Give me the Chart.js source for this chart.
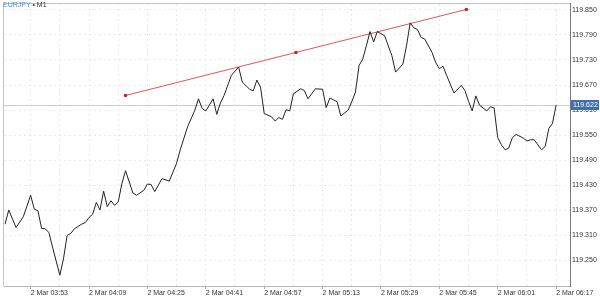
<!DOCTYPE html>
<html>
<head>
<meta charset="utf-8">
<script src="https://cdn.jsdelivr.net/npm/chart.js@4.4.0/dist/chart.umd.min.js"></script>
<style>
  html, body { margin: 0; padding: 0; background: #fff; }
  .wrap { position: relative; width: 600px; height: 300px; }
  .title { position: absolute; left: 3px; top: 1px; font: 7px "Liberation Sans", Arial, sans-serif; color: #333; }
  .title .sym { color: #4a8fdc; }
</style>
</head>
<body>
<div class="wrap">
  <canvas id="chart" width="600" height="300"></canvas>
  <div class="title"><span class="sym">EURJPY</span> • M1</div>
</div>
<script>
    // minutes counted from 2 Mar 03:53
    var minutes = [-7, -6, -4, -2, 0, 1, 2, 3, 4, 5, 6, 8, 9, 10, 11, 12, 14, 15, 16, 17, 18, 19, 20, 21, 22, 23, 24, 25, 26, 28,
        29, 31, 32, 33, 34, 36, 38, 40, 41, 43, 45, 46, 47, 48, 50, 51, 52, 53, 55, 57, 58, 60, 61, 62, 63, 64, 66, 67, 68, 69,
        70, 71, 72, 74, 75, 76, 78, 80, 81, 82, 84, 85, 87, 88, 89, 90, 91, 92, 93, 94, 95, 97, 99, 100, 102, 103, 104, 105, 106, 107,
        108, 109, 110, 111, 112, 113, 114, 116, 118, 119, 120, 121, 122, 123, 125, 126, 127, 128, 129, 130, 131, 132, 133, 135, 136, 137, 138, 140,
        141, 142, 143, 144];
    var prices = [119.337, 119.371, 119.329, 119.355, 119.406, 119.373, 119.369, 119.327, 119.326, 119.317, 119.282, 119.215, 119.254, 119.310, 119.315, 119.326, 119.337, 119.341, 119.353, 119.361, 119.389, 119.371, 119.416, 119.379, 119.393, 119.382, 119.390, 119.434, 119.465, 119.412,
        119.406, 119.418, 119.433, 119.432, 119.415, 119.446, 119.440, 119.483, 119.515, 119.570, 119.610, 119.637, 119.614, 119.608, 119.637, 119.600, 119.627, 119.645, 119.693, 119.713, 119.677, 119.660, 119.656, 119.682, 119.665, 119.602, 119.594, 119.584, 119.592, 119.588,
        119.611, 119.608, 119.649, 119.661, 119.657, 119.637, 119.661, 119.660, 119.616, 119.639, 119.630, 119.596, 119.610, 119.630, 119.653, 119.717, 119.732, 119.764, 119.798, 119.773, 119.798, 119.788, 119.740, 119.701, 119.720, 119.764, 119.819, 119.807, 119.803, 119.784,
        119.780, 119.764, 119.748, 119.724, 119.709, 119.715, 119.693, 119.651, 119.669, 119.657, 119.631, 119.608, 119.644, 119.622, 119.608, 119.618, 119.615, 119.544, 119.527, 119.515, 119.519, 119.544, 119.552, 119.543, 119.536, 119.539, 119.539, 119.515,
        119.523, 119.566, 119.578, 119.622];

    // trend line drawn on the chart
    var trendMinutes = [26, 72.7, 119.4];
    var trendPrices = [119.645, 119.748, 119.851];

    var lastPrice = 119.622;

    // axis ticks
    var gridMinutes = [0, 8, 16, 24, 32, 40, 48, 56, 64, 72, 80, 88, 96, 104, 112, 120, 128, 136, 144];
    var timeLabels = ['2 Mar 03:53', '2 Mar 04:09', '2 Mar 04:25', '2 Mar 04:41', '2 Mar 04:57',
        '2 Mar 05:13', '2 Mar 05:29', '2 Mar 05:45', '2 Mar 06:01', '2 Mar 06:17'];
    var priceTicks = [119.250, 119.310, 119.370, 119.430, 119.490, 119.550, 119.610, 119.670, 119.730, 119.790, 119.850];

    Chart.defaults.font.family = '"Liberation Sans", Arial, sans-serif';
    Chart.defaults.font.size = 7;
    Chart.defaults.color = '#333';

    var frame = {
        id: 'frame',
        beforeDatasetsDraw: function (chart) {
            var ctx = chart.ctx, a = chart.chartArea;
            var y = Math.round(chart.scales.y.getPixelForValue(lastPrice)) + 0.5;
            ctx.save();
            ctx.strokeStyle = '#cdcdcd';
            ctx.lineWidth = 1;
            ctx.beginPath();
            ctx.moveTo(a.left, y);
            ctx.lineTo(a.right, y);
            ctx.stroke();
            ctx.restore();
        },
        afterDraw: function (chart) {
            var ctx = chart.ctx, a = chart.chartArea;
            ctx.save();
            ctx.lineWidth = 1;
            ctx.strokeStyle = '#c4c4c4';
            ctx.beginPath();
            ctx.moveTo(a.left - 0.5, a.bottom);
            ctx.lineTo(a.left - 0.5, a.top - 0.5);
            ctx.lineTo(a.right, a.top - 0.5);
            ctx.stroke();
            ctx.strokeStyle = '#b5b5b5';
            ctx.beginPath();
            ctx.moveTo(a.left, a.bottom + 0.5);
            ctx.lineTo(a.right, a.bottom + 0.5);
            ctx.stroke();
            ctx.strokeStyle = '#777';
            ctx.beginPath();
            ctx.moveTo(a.right + 0.5, a.top - 1);
            ctx.lineTo(a.right + 0.5, a.bottom + 1);
            ctx.stroke();

            // last price tag
            var y = Math.round(chart.scales.y.getPixelForValue(lastPrice));
            ctx.fillStyle = '#3f6fae';
            ctx.fillRect(a.right + 1, y - 5, 28, 10);
            ctx.fillStyle = '#fff';
            ctx.font = '7px "Liberation Sans", Arial, sans-serif';
            ctx.textBaseline = 'middle';
            ctx.fillText(lastPrice.toFixed(3), a.right + 3, y + 0.5);
            ctx.restore();
        }
    };

    var myChart = new Chart(document.getElementById('chart'), {
        type: 'line',
        data: {
            datasets: [{
                data: minutes.map((m, i) => ({ x: m, y: prices[i] })),
                borderColor: '#222',
                borderWidth: 1,
                pointRadius: 0,
                tension: 0
            }, {
                data: trendMinutes.map((m, i) => ({ x: m, y: trendPrices[i] })),
                borderColor: '#e0574e',
                borderWidth: 1,
                pointRadius: 1.8,
                pointBackgroundColor: '#c22a22',
                pointBorderColor: '#c22a22',
                pointBorderWidth: 0,
                tension: 0
            }]
        },
        options: {
            responsive: false,
            animation: false,
            layout: { padding: { left: 1, top: 1, right: 0, bottom: 0 } },
            plugins: { legend: { display: false }, tooltip: { enabled: false } },
            scales: {
                x: {
                    type: 'linear',
                    min: -7.3,
                    max: 147.8,
                    afterBuildTicks: function (s) {
                        s.ticks = gridMinutes.map(v => ({ value: v }));
                    },
                    afterFit: function (s) {
                        s.height = 14;
                        s.paddingLeft = 0;
                        s.paddingRight = 0;
                    },
                    ticks: {
                        autoSkip: false,
                        maxRotation: 0,
                        align: 'start',
                        padding: 0,
                        callback: function (v) {
                            return v % 16 === 0 ? timeLabels[v / 16] : '';
                        }
                    },
                    grid: {
                        color: '#e9e9e9',
                        tickLength: 3,
                        tickColor: function (c) {
                            return c.tick && c.tick.value % 16 === 0 ? '#aaa' : 'rgba(0,0,0,0)';
                        }
                    },
                    border: { display: false, dash: [2, 3] }
                },
                y: {
                    position: 'right',
                    min: 119.189,
                    max: 119.864,
                    afterBuildTicks: function (s) {
                        s.ticks = priceTicks.map(v => ({ value: v }));
                    },
                    afterFit: function (s) {
                        s.width = 30;
                        s.paddingTop = 0;
                        s.paddingBottom = 0;
                    },
                    ticks: {
                        padding: 2,
                        callback: function (v) { return v.toFixed(3); }
                    },
                    grid: {
                        color: '#e9e9e9',
                        drawTicks: false
                    },
                    border: { display: false, dash: [2, 3] }
                }
            }
        },
        plugins: [frame]
    });
</script>
</body>
</html>
